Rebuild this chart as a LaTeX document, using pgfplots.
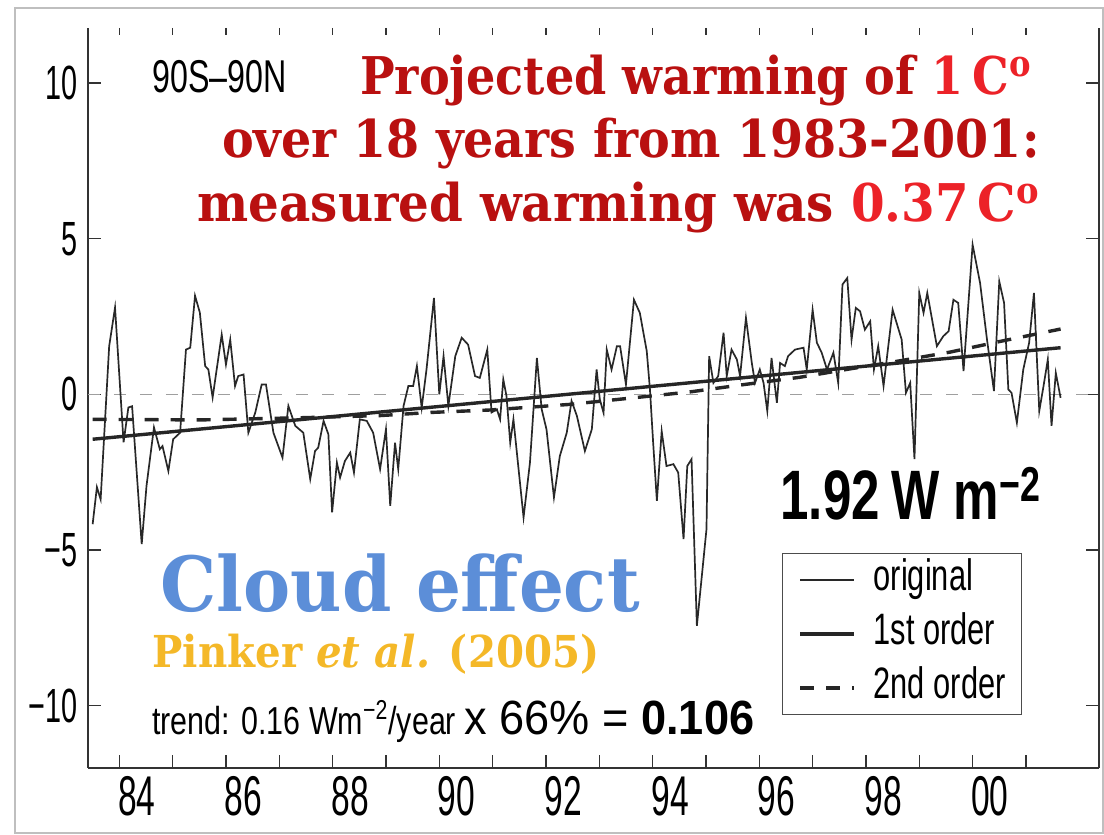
\documentclass[border=0pt]{standalone}
\usepackage{pgfplots}
\pgfplotsset{compat=1.18}
\usepackage{fontspec}
\setmainfont{Liberation Sans}
\newfontfamily\hv[FakeStretch=0.7]{Liberation Sans}
\newfontfamily\hvt[FakeStretch=0.6]{Liberation Sans}
\newfontfamily\hvm[FakeStretch=0.78]{Liberation Sans}
\newfontfamily\hvw[FakeStretch=0.94]{Liberation Sans}
\newfontfamily\hvb[FakeStretch=0.73]{Liberation Sans}
\newfontfamily\serA[FakeStretch=0.887]{DejaVu Serif}
\newfontfamily\serB[FakeStretch=0.915]{DejaVu Serif}
\newfontfamily\serC[FakeStretch=0.93]{DejaVu Serif}
\newfontfamily\serc[FakeStretch=0.93]{DejaVu Serif}
\newfontfamily\serp[FakeStretch=0.917]{DejaVu Serif}
\definecolor{titlered}{RGB}{185,16,16}
\definecolor{hired}{RGB}{236,34,40}
\definecolor{cloudblue}{RGB}{92,142,216}
\definecolor{gold}{RGB}{244,184,40}
\definecolor{dline}{RGB}{40,40,40}

\pgfplotstableread{
x y
83.50 -4.17
83.58 -2.98
83.65 -3.37
83.81 1.55
83.92 2.79
84.08 -1.54
84.17 -0.42
84.24 -0.38
84.42 -4.81
84.51 -2.94
84.65 -1.06
84.76 -1.76
84.81 -1.66
84.92 -2.46
85.01 -1.44
85.14 -1.23
85.25 1.44
85.33 1.50
85.42 3.17
85.51 2.63
85.61 0.91
85.67 0.80
85.75 -0.10
85.92 1.92
86.00 0.96
86.08 1.76
86.17 0.27
86.23 0.59
86.33 0.64
86.42 -1.23
86.55 -0.58
86.67 0.32
86.75 0.32
86.89 -1.23
87.06 -2.03
87.17 -0.37
87.30 -1.01
87.45 -1.23
87.58 -2.72
87.67 -1.82
87.73 -1.71
87.83 -0.85
87.92 -1.28
87.99 -3.79
88.08 -2.19
88.14 -2.67
88.23 -2.14
88.33 -1.87
88.40 -2.51
88.51 -0.80
88.64 -0.85
88.76 -1.23
88.89 -2.40
89.00 -1.12
89.08 -3.58
89.17 -1.55
89.23 -2.40
89.33 -0.37
89.42 0.27
89.51 0.27
89.58 0.91
89.67 -0.43
89.76 0.80
89.90 3.10
90.00 0.00
90.08 1.23
90.17 -0.37
90.30 1.23
90.42 1.82
90.54 1.60
90.67 0.59
90.76 0.53
90.90 1.44
90.98 -0.58
91.08 -0.48
91.14 -0.80
91.20 0.48
91.26 -0.05
91.33 -1.55
91.39 -0.80
91.58 -3.95
91.70 -2.19
91.83 1.17
91.92 -0.48
92.01 -1.12
92.15 -3.31
92.26 -1.98
92.39 -1.23
92.48 -0.21
92.58 -0.69
92.73 -1.82
92.86 -1.12
92.95 0.80
93.01 -0.16
93.08 -0.59
93.14 1.44
93.23 0.80
93.33 1.55
93.39 1.55
93.50 0.32
93.65 3.04
93.76 2.62
93.89 1.39
93.95 0.16
94.01 -1.55
94.08 -3.42
94.17 -1.18
94.26 -2.30
94.39 -2.24
94.48 -2.51
94.58 -4.65
94.65 -2.30
94.73 -2.08
94.83 -7.43
95.01 -4.33
95.06 1.23
95.14 0.37
95.23 0.59
95.33 1.98
95.39 0.59
95.48 1.44
95.58 1.12
95.64 0.59
95.75 2.46
95.86 1.01
95.92 0.37
96.01 0.80
96.08 0.37
96.15 -0.53
96.23 1.17
96.33 -0.27
96.39 1.01
96.48 0.91
96.54 1.23
96.67 1.44
96.83 1.50
96.89 0.80
97.00 2.72
97.08 1.66
97.17 1.34
97.27 0.80
97.39 1.34
97.48 0.37
97.56 3.53
97.65 3.74
97.73 1.76
97.81 2.78
97.89 2.67
97.98 2.08
98.08 2.35
98.15 0.80
98.23 1.55
98.33 0.27
98.50 2.72
98.67 1.76
98.75 0.05
98.83 0.37
98.91 -2.08
99.00 3.26
99.08 2.62
99.15 3.26
99.33 1.55
99.45 1.87
99.55 2.03
99.64 3.04
99.73 2.94
99.83 0.75
100.00 4.81
100.14 3.58
100.27 1.76
100.40 0.11
100.50 3.63
100.59 2.94
100.67 0.16
100.73 0.05
100.83 -0.91
100.95 0.80
101.06 1.66
101.15 3.26
101.25 -0.53
101.33 0.27
101.41 1.12
101.48 -1.01
101.56 0.69
101.65 -0.11
}\orig

\pgfplotstableread{
x y
83.50 -0.80
85.51 -0.82
87.39 -0.75
88.89 -0.68
89.83 -0.58
90.96 -0.50
92.45 -0.32
93.58 -0.12
94.70 0.08
95.64 0.30
96.76 0.55
97.70 0.82
98.64 1.08
99.58 1.36
100.51 1.70
101.65 2.10
}\second

\begin{document}
\begin{tikzpicture}
\begin{scope}[x=0.5pt,y=-0.5pt,shift={(-44pt,384pt)}]
  \useasboundingbox (0,0) rectangle (1104,835);
  \draw[black!25, line width=1.2pt] (15,8) rectangle (1103,833);
\end{scope}

% top ticks only
\begin{axis}[
  scale only axis, width=505.5pt, height=370pt,
  xmin=83.413, xmax=102.37, ymin=-12, ymax=11.77,
  axis x line*=top, axis y line=none,
  x axis line style={draw=none},
  xtick={84,...,101}, xticklabels={},
  major tick length=3.5pt, tick align=inside,
  tick style={black!80, line width=0.6pt},
]
\addplot[draw=none] coordinates {(90,0)};
\end{axis}

\begin{axis}[
  scale only axis, width=505.5pt, height=370pt,
  xmin=83.413, xmax=102.37, ymin=-12, ymax=11.77,
  axis x line*=bottom, axis y line*=box,
  axis line style={black!80, line width=0.7pt},
  tick style={black!80, line width=0.6pt},
  tick align=inside, major tick length=6.5pt,
  xtick={84,...,101}, xticklabels={},
  extra x ticks={84.326,86.326,88.326,90.326,92.326,94.326,96.326,98.326,100.326},
  extra x tick labels={84,86,88,90,92,94,96,98,00},
  extra x tick style={major tick length=0pt},
  xticklabel style={font=\hvt\fontsize{28}{28}\selectfont, inner sep=0pt, yshift=-4pt},
  ytick={-10,-5,0,5,10},
  yticklabels={−10,−5,0,5,10},
  yticklabel style={font=\hvt\fontsize{24}{24}\selectfont, inner sep=0pt, xshift=-5pt},
  legend style={at={(0.924,0.0716)}, anchor=south east, draw=black!70, line width=0.6pt,
     fill=white, font=\hv\fontsize{22}{22}\selectfont,
     inner xsep=8pt, inner ysep=2.75pt, row sep=6pt,
     nodes={inner sep=0pt, text height=16pt, text depth=5pt}},
  legend cell align=left,
  legend image code/.code={\draw[#1] (0pt,0pt) -- (27pt,0pt);},
]
\addplot[gray!75, line width=0.7pt, dash pattern=on 6pt off 7pt, forget plot] coordinates {(83.413,0) (102.37,0)};
\addplot[dline, line width=0.85pt] table[x=x,y=y] {\orig};
\addlegendentry{\hspace{9pt}original}
\addplot[black!85, line width=1.7pt] coordinates {(83.50,-1.44) (101.65,1.50)};
\addlegendentry{\hspace{9pt}1st order}
\addplot[black!85, line width=1.7pt, dash pattern=on 7pt off 6pt] table[x=x,y=y] {\second};
\addlegendentry{\hspace{9pt}2nd order}
\end{axis}

\begin{scope}[x=0.5pt,y=-0.5pt,shift={(-44pt,384pt)}, every node/.style={inner sep=0pt}]
  \node[anchor=base west] at (152,93) {\hv\fontsize{23}{23}\selectfont 90S–90N};
  \node[anchor=base east] at (1032,95) {\serA\bfseries\fontsize{26}{26}\selectfont\color{titlered}Projected warming of \textcolor{hired}{1\,C\textsuperscript{o}}};
  \node[anchor=base east] at (1040,158) {\serB\bfseries\fontsize{26}{26}\selectfont\color{titlered}over 18 years from 1983-2001:};
  \node[anchor=base east] at (1040,222) {\serC\bfseries\fontsize{26}{26}\selectfont\color{titlered}measured warming was \textcolor{hired}{0.37\,C\textsuperscript{o}}};
  \node[anchor=base west] at (780,520) {\hvb\bfseries\fontsize{35}{35}\selectfont 1.92\,W m\textsuperscript{−2}};
  \node[anchor=base west, text=cloudblue] at (160,612) {\serc\bfseries\fontsize{38}{38}\selectfont Cloud effect};
  \node[anchor=base west, text=gold] at (152,668) {\serp\bfseries\fontsize{22}{22}\selectfont Pinker \textit{et al.} (2005)};
  \node[anchor=base west] at (152,735) {\hvm\fontsize{19.5}{20}\selectfont trend: 0.16 Wm\textsuperscript{−2}/year {\hvw\fontsize{24}{24}\selectfont x 66\% = \bfseries 0.106}};
\end{scope}
\end{tikzpicture}
\end{document}
